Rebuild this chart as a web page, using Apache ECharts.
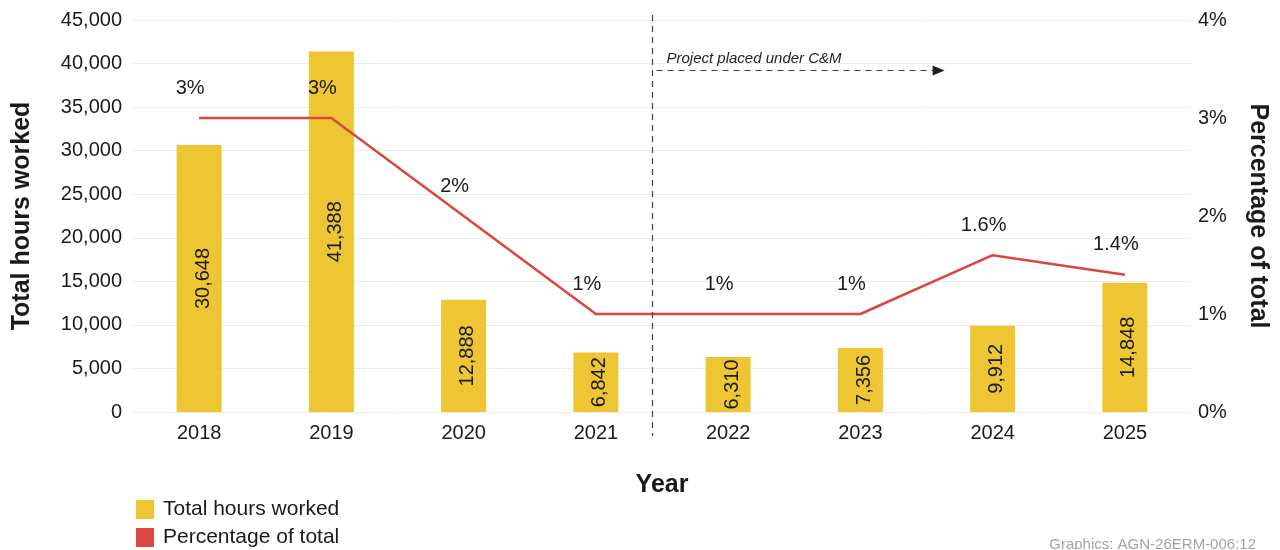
<!DOCTYPE html>
<html>
<head>
<meta charset="utf-8">
<script src="https://cdn.jsdelivr.net/npm/echarts@6/dist/echarts.min.js"></script>
<style>
  html, body { margin: 0; padding: 0; background: #ffffff; }
  #chart { width: 1280px; height: 550px; }
</style>
</head>
<body>
<div id="chart"></div>
<script>
// Yearly hours worked and their share of the total
const years = ['2018', '2019', '2020', '2021', '2022', '2023', '2024', '2025'];
const hoursWorked = [30648, 41388, 12888, 6842, 6310, 7356, 9912, 14848];
const percentOfTotal = [3, 3, 2, 1, 1, 1, 1.6, 1.4];
const percentLabels = ['3%', '3%', '2%', '1%', '1%', '1%', '1.6%', '1.4%'];
const hoursTicks = { min: 0, max: 45000, interval: 5000 };
const percentTicks = { min: 0, max: 4, interval: 1 };
const noteText = 'Project placed under C&M';
const creditText = 'Graphics: AGN-26ERM-006:12';

const FONT = '"Liberation Sans", Arial, sans-serif';
const GOLD = '#EEC532';
const RED = '#DC4640';
const INK = '#1a1a1a';

const fmtThousands = v => String(v).replace(/\B(?=(\d{3})+(?!\d))/g, ',');

const chart = echarts.init(document.getElementById('chart'), null, { renderer: 'canvas' });

const creditGraphic = {
  type: 'text',
  right: 24,
  bottom: -2,
  style: { text: creditText, fontFamily: FONT, fontSize: 15, fill: '#a3a3a3' }
};

chart.setOption({
  backgroundColor: '#ffffff',
  textStyle: { fontFamily: FONT },
  animation: false,
  grid: { left: 133, right: 89, top: 20, bottom: 138, containLabel: false },
  legend: {
    orient: 'vertical',
    left: 136,
    top: 499,
    height: 60,
    padding: 0,
    itemWidth: 18,
    itemHeight: 19,
    itemGap: 7,
    icon: 'rect',
    textStyle: { fontFamily: FONT, fontSize: 21, color: INK, padding: [0, 0, 0, 4] },
    data: ['Total hours worked', 'Percentage of total']
  },
  graphic: [creditGraphic],
  xAxis: {
    type: 'category',
    data: years,
    name: 'Year',
    nameLocation: 'middle',
    nameGap: 61,
    nameTextStyle: { fontFamily: FONT, fontSize: 25, fontWeight: 'bold', color: INK },
    axisLine: { show: false },
    axisTick: { show: false },
    axisLabel: { fontFamily: FONT, fontSize: 20, color: INK, margin: 11 }
  },
  yAxis: [{
    type: 'value',
    min: hoursTicks.min,
    max: hoursTicks.max,
    interval: hoursTicks.interval,
    name: 'Total hours worked',
    nameLocation: 'middle',
    nameGap: 98,
    nameTextStyle: { fontFamily: FONT, fontSize: 25, fontWeight: 'bold', color: INK },
    axisLine: { show: false },
    axisTick: { show: false },
    axisLabel: { fontFamily: FONT, fontSize: 20, color: INK, margin: 11, formatter: v => fmtThousands(v) },
    splitLine: { lineStyle: { color: '#ececec', width: 1 } }
  }, {
    type: 'value',
    min: percentTicks.min,
    max: percentTicks.max,
    interval: percentTicks.interval,
    name: 'Percentage of total',
    nameLocation: 'middle',
    nameGap: 54,
    nameRotate: -90,
    nameTextStyle: { fontFamily: FONT, fontSize: 25, fontWeight: 'bold', color: INK },
    axisLine: { show: false },
    axisTick: { show: false },
    axisLabel: { fontFamily: FONT, fontSize: 20, color: INK, margin: 7, formatter: '{value}%' },
    splitLine: { show: false }
  }],
  series: [{
    name: 'Total hours worked',
    type: 'bar',
    yAxisIndex: 0,
    data: hoursWorked,
    barWidth: 45,
    itemStyle: { color: GOLD },
    label: {
      show: true,
      position: 'inside',
      rotate: 90,
      offset: [0, 4],
      fontFamily: FONT,
      fontSize: 20,
      color: INK,
      formatter: p => fmtThousands(p.value)
    },
    z: 2
  }, {
    name: 'Percentage of total',
    type: 'line',
    yAxisIndex: 1,
    data: percentOfTotal,
    symbol: 'circle',
    symbolSize: 0,
    showSymbol: true,
    lineStyle: { color: RED, width: 2.5 },
    itemStyle: { color: RED },
    label: {
      show: true,
      position: 'top',
      offset: [-9, -15],
      fontFamily: FONT,
      fontSize: 20,
      color: INK,
      formatter: p => percentLabels[p.dataIndex]
    },
    z: 3
  }]
});

// Divider between 2021 and 2022 with the "placed under C&M" note and arrow
function drawDivider() {
  const x2021 = chart.convertToPixel({ xAxisIndex: 0 }, '2021');
  const x2022 = chart.convertToPixel({ xAxisIndex: 0 }, '2022');
  const x2024 = chart.convertToPixel({ xAxisIndex: 0 }, '2024');
  const yTop = chart.convertToPixel({ yAxisIndex: 1 }, 4);
  const yBase = chart.convertToPixel({ yAxisIndex: 1 }, 0);
  const lineX = Math.round((x2021 + x2022) / 2) - 10 + 0.5;
  const arrowY = Math.round(yTop + 50) + 0.5;
  const arrowEnd = x2024 - 48;
  chart.setOption({
    graphic: [creditGraphic, {
      type: 'line',
      shape: { x1: lineX, y1: yTop - 5, x2: lineX, y2: yBase + 24 },
      style: { stroke: '#444', lineWidth: 1.2, lineDash: [6, 5] },
      z: 10
    }, {
      type: 'line',
      shape: { x1: lineX + 4, y1: arrowY, x2: arrowEnd - 10, y2: arrowY },
      style: { stroke: '#444', lineWidth: 1.2, lineDash: [6, 5] },
      z: 10
    }, {
      type: 'polygon',
      shape: { points: [[arrowEnd - 12, arrowY - 5], [arrowEnd, arrowY], [arrowEnd - 12, arrowY + 5]] },
      style: { fill: '#222' },
      z: 10
    }, {
      type: 'text',
      x: lineX + 14,
      y: arrowY - 4,
      style: {
        text: noteText,
        fontFamily: FONT,
        fontSize: 15,
        fontStyle: 'italic',
        fill: '#222',
        verticalAlign: 'bottom'
      },
      z: 10
    }]
  });
}
drawDivider();
</script>
</body>
</html>
